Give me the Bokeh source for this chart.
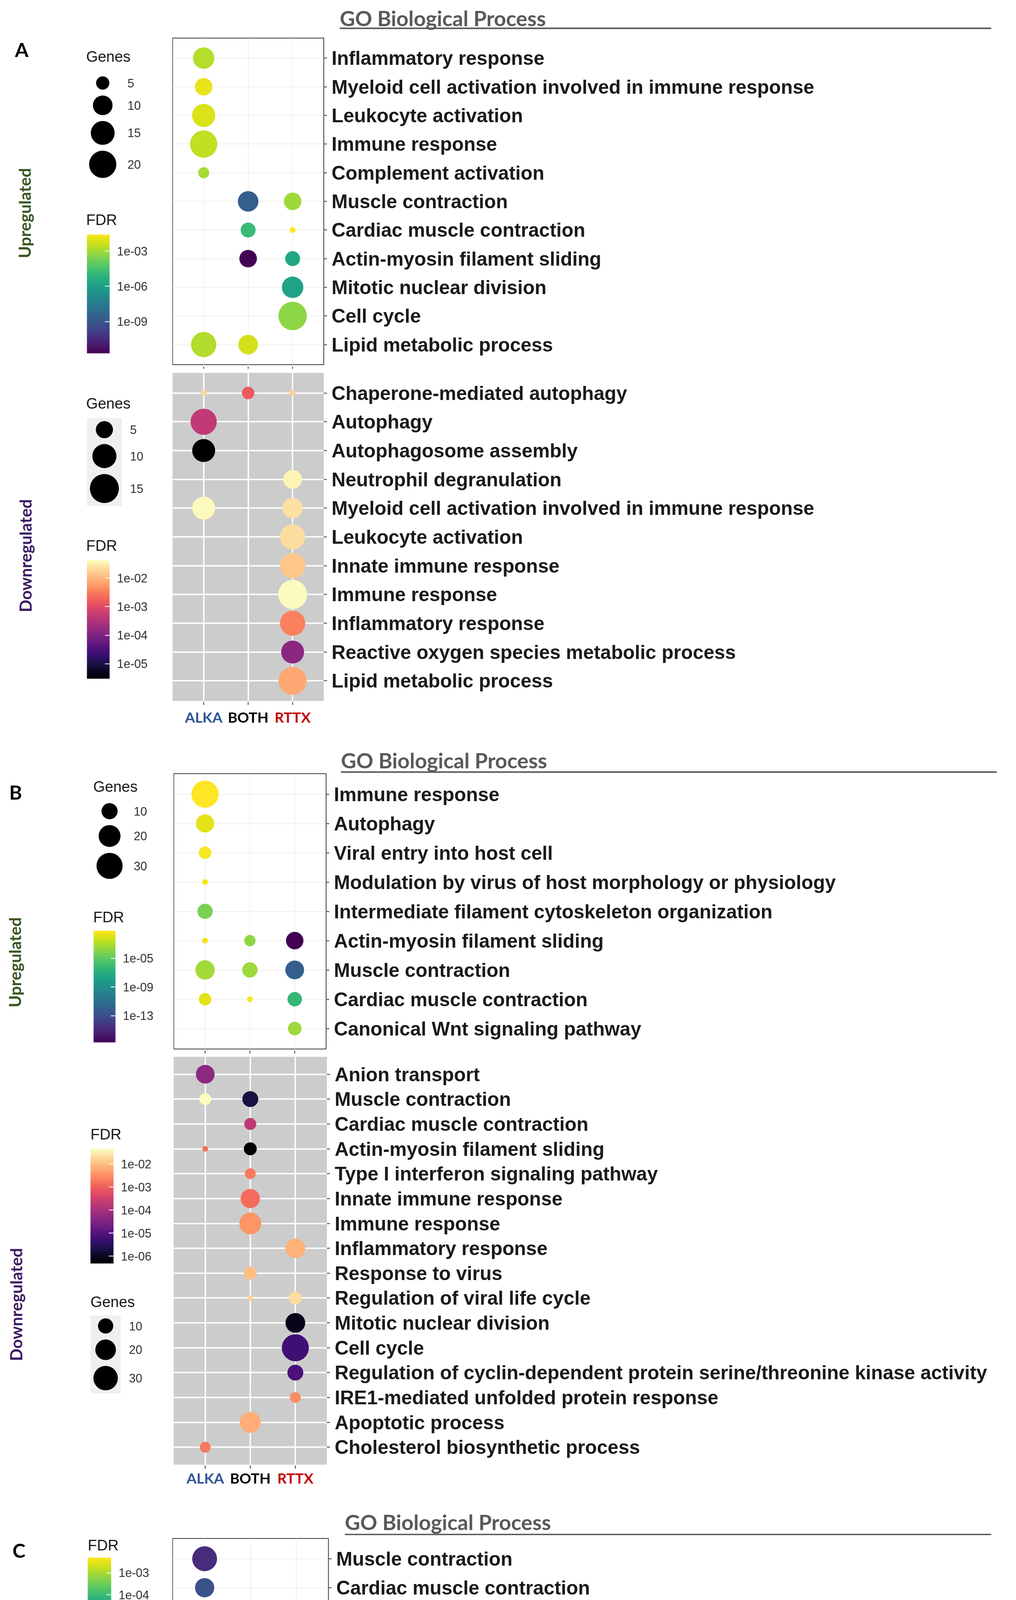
import math
from bokeh.plotting import figure
from bokeh.models import (ColumnDataSource, FactorRange, Range1d, LogColorMapper, ColorBar,
                          FixedTicker, CustomJSTickFormatter, AllLabels)
from bokeh.layouts import column, row
from bokeh.palettes import Viridis256, Magma256
from bokeh.core.properties import value
from bokeh.embed import file_html
from bokeh.resources import INLINE

# ======================= DATA =======================
GROUPS = ["ALKA", "BOTH", "RTTX"]
GROUP_COLORS = ["#2F5597", "#000000", "#C00000"]

# ---- Panel A, upregulated ----
A_UP_TERMS = ["Inflammatory response",
              "Myeloid cell activation involved in immune response",
              "Leukocyte activation", "Immune response", "Complement activation",
              "Muscle contraction", "Cardiac muscle contraction",
              "Actin-myosin filament sliding", "Mitotic nuclear division",
              "Cell cycle", "Lipid metabolic process"]
A_UP_TERM = [0, 1, 2, 3, 4, 5, 5, 6, 6, 7, 7, 8, 9, 10, 10]
A_UP_GROUP = ["ALKA", "ALKA", "ALKA", "ALKA", "ALKA", "BOTH", "RTTX", "BOTH", "RTTX",
              "BOTH", "RTTX", "RTTX", "RTTX", "ALKA", "BOTH"]
A_UP_GENES = [12, 8, 14, 20, 4, 11, 8, 6, 3, 8, 6, 12, 22, 17, 10]
A_UP_FDR = [1.9e-3, 1.2e-2, 7e-3, 3e-3, 1.1e-3, 2e-9, 8.7e-4, 1.5e-5, 2.5e-2,
            2e-12, 2.3e-6, 1.4e-6, 4.8e-4, 1.7e-3, 5.5e-3]
A_UP_SIZE_BREAKS = [5, 10, 15, 20]
A_UP_FDR_TICKS = [1e-3, 1e-6, 1e-9]

# ---- Panel A, downregulated ----
A_DN_TERMS = ["Chaperone-mediated autophagy", "Autophagy", "Autophagosome assembly",
              "Neutrophil degranulation",
              "Myeloid cell activation involved in immune response",
              "Leukocyte activation", "Innate immune response", "Immune response",
              "Inflammatory response", "Reactive oxygen species metabolic process",
              "Lipid metabolic process"]
A_DN_TERM = [0, 0, 0, 1, 2, 3, 4, 4, 5, 6, 7, 8, 9, 10]
A_DN_GROUP = ["ALKA", "BOTH", "RTTX", "ALKA", "ALKA", "RTTX", "ALKA", "RTTX", "RTTX",
              "RTTX", "RTTX", "RTTX", "RTTX", "RTTX"]
A_DN_GENES = [2, 3, 2, 12, 9, 6, 9, 7, 11, 11, 15, 11, 9, 14]
A_DN_FDR = [2.0e-2, 1.5e-3, 1.8e-2, 4.7e-4, 3e-6, 3.5e-2, 3.9e-2, 2.4e-2, 2.2e-2,
            1.35e-2, 4.3e-2, 3.5e-3, 1.35e-4, 7.6e-3]
A_DN_SIZE_BREAKS = [5, 10, 15]
A_DN_FDR_TICKS = [1e-2, 1e-3, 1e-4, 1e-5]

# ---- Panel B, upregulated ----
B_UP_TERMS = ["Immune response", "Autophagy", "Viral entry into host cell",
              "Modulation by virus of host morphology or physiology",
              "Intermediate filament cytoskeleton organization",
              "Actin-myosin filament sliding", "Muscle contraction",
              "Cardiac muscle contraction", "Canonical Wnt signaling pathway"]
B_UP_TERM = [0, 1, 2, 3, 4, 5, 5, 5, 6, 6, 6, 7, 7, 7, 8]
B_UP_GROUP = ["ALKA", "ALKA", "ALKA", "ALKA", "ALKA", "ALKA", "BOTH", "RTTX",
              "ALKA", "BOTH", "RTTX", "ALKA", "BOTH", "RTTX", "RTTX"]
B_UP_GENES = [33, 13, 6, 3, 9, 3, 5, 12, 15, 9, 14, 6, 3, 8, 7]
B_UP_FDR = [7.2e-2, 1.7e-2, 4.3e-2, 4.3e-2, 5.6e-5, 3.5e-2, 1.6e-4, 2e-17,
            4.8e-4, 4e-4, 9.3e-13, 1.7e-2, 4.3e-2, 4.5e-7, 4e-4]
B_UP_SIZE_BREAKS = [10, 20, 30]
B_UP_FDR_TICKS = [1e-5, 1e-9, 1e-13]

# ---- Panel B, downregulated ----
B_DN_TERMS = ["Anion transport", "Muscle contraction", "Cardiac muscle contraction",
              "Actin-myosin filament sliding", "Type I interferon signaling pathway",
              "Innate immune response", "Immune response", "Inflammatory response",
              "Response to virus", "Regulation of viral life cycle",
              "Mitotic nuclear division", "Cell cycle",
              "Regulation of cyclin-dependent protein serine/threonine kinase activity",
              "IRE1-mediated unfolded protein response", "Apoptotic process",
              "Cholesterol biosynthetic process"]
B_DN_TERM = [0, 1, 1, 2, 3, 3, 4, 5, 6, 7, 8, 9, 9, 10, 11, 12, 13, 14, 15]
B_DN_GROUP = ["ALKA", "ALKA", "BOTH", "BOTH", "ALKA", "BOTH", "BOTH", "BOTH", "BOTH",
              "RTTX", "BOTH", "BOTH", "RTTX", "RTTX", "RTTX", "RTTX", "RTTX", "BOTH", "ALKA"]
B_DN_GENES = [16, 6, 11, 6, 3, 7, 5, 17, 23, 18, 7, 3, 7, 18, 38, 11, 5, 21, 5]
B_DN_FDR = [4.7e-5, 4.6e-2, 1.9e-6, 1.9e-4, 1.5e-3, 4.8e-7, 1.9e-3, 1.3e-3, 3.6e-3,
            7.2e-3, 1.0e-2, 1.6e-2, 2.0e-2, 8.5e-7, 5.4e-6, 7.6e-6, 2.9e-3, 6.5e-3, 1.9e-3]
B_DN_SIZE_BREAKS = [10, 20, 30]
B_DN_FDR_TICKS = [1e-2, 1e-3, 1e-4, 1e-5, 1e-6]

# ---- Panel C, upregulated ----
C_UP_TERMS = ["Muscle contraction", "Cardiac muscle contraction",
              "Actin-myosin filament sliding", "Actin filament-based process",
              "Actin cytoskeleton organization", "Sulfur compound biosynthetic process",
              "Purine nucleoside bisphosphate biosynthetic process",
              "Phosphorus metabolic process", "Lipid metabolic process",
              "Extracellular structure organization"]
C_UP_TERM = [0, 1, 2, 3, 4, 5, 6, 7, 8, 8, 9]
C_UP_GROUP = ["ALKA", "ALKA", "ALKA", "ALKA", "ALKA", "BOTH", "BOTH", "BOTH",
              "ALKA", "BOTH", "RTTX"]
C_UP_GENES = [10, 7, 6, 8, 7, 7, 4, 12, 10, 5, 4]
C_UP_FDR = [1.1e-7, 4.9e-7, 3.3e-8, 8.7e-4, 2.3e-3, 2.3e-8, 2.7e-7, 3.1e-6,
            2.8e-3, 2.3e-3, 4.9e-3]
C_UP_SIZE_BREAKS = [6, 8, 10, 12]
C_UP_FDR_TICKS = [1e-3, 1e-4, 1e-5, 1e-6, 1e-7]

# ---- Panel C, downregulated ----
C_DN_TERMS = ["Type I interferon production", "T cell differentiation",
              "Interleukin-1 beta production", "Innate immune response",
              "Immune response", "Neutrophil degranulation", "Leukocyte activation",
              "Response to cytokine", "Response to virus",
              "Regulation of viral life cycle", "PiRNA metabolic process",
              "Nuclear division", "Cell cycle",
              "Regulation of cyclin-dependent protein serine/threonine kinase activity",
              "I-kappaB kinase/NF-kappaB signaling", "Apoptotic process",
              "Lipid metabolic process"]
C_DN_TERM = [0, 1, 2, 3, 4, 4, 5, 6, 7, 7, 8, 8, 9, 9, 10, 10, 11, 12, 13, 13,
             14, 15, 16, 16, 16]
C_DN_GROUP = ["ALKA", "ALKA", "ALKA", "ALKA", "ALKA", "BOTH", "RTTX", "RTTX",
              "ALKA", "BOTH", "ALKA", "BOTH", "ALKA", "BOTH", "BOTH", "RTTX",
              "RTTX", "RTTX", "BOTH", "RTTX", "ALKA", "ALKA", "ALKA", "BOTH", "RTTX"]
C_DN_GENES = [6, 6, 8, 21, 28, 25, 17, 31, 23, 17, 15, 8, 11, 6, 2, 10, 23, 50,
              4, 12, 8, 23, 20, 20, 32]
C_DN_FDR = [3.5e-3, 4e-3, 2.5e-4, 6.8e-6, 1.1e-4, 1.5e-2, 1.5e-2, 1.5e-2, 2.1e-6,
            1.7e-2, 2e-8, 1.7e-2, 7.8e-6, 1.7e-2, 2.6e-2, 8.7e-8, 1.4e-5, 2.9e-5,
            2e-2, 1.6e-5, 2.6e-3, 2.2e-3, 1.7e-2, 1.5e-2, 4.1e-2]
C_DN_SIZE_BREAKS = [10, 20, 30, 40, 50]
C_DN_FDR_TICKS = [1e-2, 1e-4, 1e-6]

# ======================= STYLE / LAYOUT =======================
W = 2584
AX_FONT = "Liberation Sans"
CAL_FONT = "Lato"
UP_COLOR = "#385723"
DN_COLOR = "#3d1a63"
TITLE_COLOR = "#595959"


def size_px(n, nmin, nmax, s):
    t = (n - nmin) / float(nmax - nmin)
    return s * (3.79 + 14.2 * math.sqrt(max(t, 0.0)))


def pixel_fig(width, top, bottom):
    p = figure(width=width, height=bottom - top, x_range=Range1d(0, width),
               y_range=Range1d(bottom, top), x_axis_type=None, y_axis_type=None,
               toolbar_location=None, output_backend="svg", min_border=0, title=None)
    p.outline_line_color = None
    p.background_fill_color = "white"
    p.border_fill_color = "white"
    return p


def title_fig(top, bottom, tx, ty, line_y, line_end):
    p = pixel_fig(W, top, bottom)
    p.text(x=[tx], y=[ty], text=["GO Biological Process"], text_baseline="middle",
           text_align="left", text_font=value(CAL_FONT), text_font_style="bold",
           text_font_size="54px", text_color=TITLE_COLOR)
    p.segment(x0=[tx], y0=[line_y], x1=[line_end], y1=[line_y], line_width=4,
              line_color=TITLE_COLOR)
    return p


def fdr_formatter():
    return CustomJSTickFormatter(code="""
        const e = Math.round(Math.log10(tick));
        const a = Math.abs(e);
        return "1e" + (e < 0 ? "-" : "+") + (a < 10 ? "0" + a : "" + a);
    """)


def left_fig(width, top, bottom, letter, vlabel, vcolor, vpos, genes, g, f, mapper):
    p = pixel_fig(width, top, bottom)
    if letter is not None:
        p.text(x=[letter[1]], y=[letter[2]], text=[letter[0]], text_align="center",
               text_baseline="middle", text_font=value(CAL_FONT), text_font_style="bold",
               text_font_size="50px", text_color="black")
    p.text(x=[vpos[0]], y=[vpos[1]], text=[vlabel], angle=math.pi / 2,
           text_align="center", text_baseline="middle", text_font=value(CAL_FONT),
           text_font_style="bold", text_font_size="42px", text_color=vcolor)

    # ---- size legend ----
    nmin, nmax = min(genes), max(genes)
    ds = [size_px(b, nmin, nmax, g["s"]) for b in g["breaks"]]
    kw = max(ds) + 15
    y = g["key_top"]
    cys = []
    for d in ds:
        cys.append(y + (d + 15) / 2.0)
        y += d + 15
    cx = g["box_left"] + kw / 2.0
    if g["grey"]:
        p.quad(left=[g["box_left"]], right=[g["box_left"] + kw], top=[g["key_top"]],
               bottom=[y], fill_color="#efefef", line_color=None)
    p.scatter(x=[cx] * len(ds), y=cys, size=ds, fill_color="black", line_color=None)
    p.text(x=[g["box_left"] + kw + 21] * len(ds), y=cys, text=[str(b) for b in g["breaks"]],
           text_align="left", text_baseline="middle", text_font=value(AX_FONT),
           text_font_size="30.5px", text_color="#333333")
    p.text(x=[g["title"][0]], y=[g["title"][1]], text=["Genes"], text_align="left",
           text_baseline="middle", text_font=value(AX_FONT), text_font_size="38.5px",
           text_color="#1a1a1a")

    # ---- colour bar ----
    p.text(x=[f["title"][0]], y=[f["title"][1]], text=["FDR"], text_align="left",
           text_baseline="middle", text_font=value(AX_FONT), text_font_size="38.5px",
           text_color="#1a1a1a")
    bl, bt, bw, bh = f["bar"]
    cb = ColorBar(color_mapper=mapper, orientation="vertical",
                  location=(bl, bottom - (bt + bh)), width=bw, height=bh,
                  padding=0, margin=0, title=None,
                  ticker=FixedTicker(ticks=f["ticks"]), formatter=fdr_formatter(),
                  major_label_policy=AllLabels(),
                  major_label_text_font=AX_FONT, major_label_text_font_size="30.5px",
                  major_label_text_color="#333333", label_standoff=19,
                  major_tick_in=12, major_tick_out=0, major_tick_line_color="white",
                  major_tick_line_width=2, minor_tick_line_color=None,
                  bar_line_color=None, border_line_color=None,
                  background_fill_alpha=0)
    p.add_layout(cb)
    return p


def main_fig(terms, tidx, grp, genes, fdr, mapper, s, fl, fr, ft, fb, top, grey):
    nmin, nmax = min(genes), max(genes)
    sizes = [size_px(n, nmin, nmax, s) for n in genes]
    src = ColumnDataSource(dict(term=[terms[i] for i in tidx], group=grp, genes=genes,
                                fdr=fdr, size=sizes))
    xr = FactorRange(factors=GROUPS, range_padding=0.2, range_padding_units="absolute")
    yr = FactorRange(factors=terms[::-1], range_padding=0.2, range_padding_units="absolute")
    p = figure(x_range=xr, y_range=yr, frame_width=fr - fl, frame_height=fb - ft,
               min_border_left=0, min_border_right=W - fr, min_border_top=ft - top,
               min_border_bottom=2, y_axis_location="right", x_axis_location=None,
               toolbar_location=None, output_backend="svg", title=None)
    p.border_fill_color = "white"
    if grey:
        p.background_fill_color = "#cccccc"
        p.grid.grid_line_color = "white"
        p.grid.grid_line_width = 3.5
        p.outline_line_color = None
    else:
        p.background_fill_color = "white"
        p.grid.grid_line_color = "#ebebeb"
        p.grid.grid_line_width = 1.5
        p.outline_line_color = "#333333"
        p.outline_line_width = 2
    p.scatter(x="group", y="term", size="size", source=src,
              fill_color={"field": "fdr", "transform": mapper}, line_color=None)
    ya = p.yaxis[0]
    ya.major_label_text_font = AX_FONT
    ya.major_label_text_font_style = "bold"
    ya.major_label_text_font_size = "49.5px"
    ya.major_label_text_color = "#1a1a1a"
    ya.major_tick_out = 8
    ya.major_tick_in = 0
    ya.major_tick_line_color = "#333333"
    ya.major_tick_line_width = 2
    ya.axis_line_color = None
    ya.major_label_standoff = 12
    return p


def bottom_fig(x_range, fl, fr, height, label_y):
    """Tick marks under the panel, and (for the lower panels) the group names."""
    p = figure(x_range=x_range, y_range=Range1d(height, 0), frame_width=fr - fl,
               frame_height=height, min_border_left=0, min_border_right=W - fr,
               min_border_top=0, min_border_bottom=0, x_axis_type=None, y_axis_type=None,
               toolbar_location=None, output_backend="svg", title=None)
    p.outline_line_color = None
    p.background_fill_color = "white"
    p.border_fill_color = "white"
    src = ColumnDataSource(dict(x=GROUPS, y0=[0] * 3, y1=[8] * 3, y=[label_y or 0] * 3,
                                c=GROUP_COLORS))
    p.segment(x0="x", y0="y0", x1="x", y1="y1", source=src, line_color="#333333",
              line_width=2)
    if label_y is not None:
        p.text(x="x", y="y", text="x", text_color="c", source=src, text_align="center",
               text_baseline="middle", text_font=value(CAL_FONT), text_font_style="bold",
               text_font_size="37px")
    return p


def subplot(terms, tidx, grp, genes, fdr, palette, s, box, letter, vlabel, vcolor, vpos,
            g, f, grey, xl=None):
    """box = (frame left, frame right, frame top, frame bottom, row top, row bottom)"""
    fl, fr, ft, fb, top, bottom = box
    mapper = LogColorMapper(palette=palette, low=min(fdr), high=max(fdr))
    lf = left_fig(fl, top, bottom, letter, vlabel, vcolor, vpos, genes, g, f, mapper)
    mf = main_fig(terms, tidx, grp, genes, fdr, mapper, s, fl, fr, ft, fb, top, grey)
    mb = fb + 2
    bf = bottom_fig(mf.x_range, fl, fr, bottom - mb, None if xl is None else xl - mb)
    return row(lf, column(mf, bf))


# ---------------- Panel A ----------------
tA = title_fig(0, 90, 869, 45.5, 72, 2536)
aup = subplot(A_UP_TERMS, A_UP_TERM, A_UP_GROUP, A_UP_GENES, A_UP_FDR, Viridis256, 4.05,
              (441, 828, 97, 933, 90, 944), ("A", 55, 126), "Upregulated", UP_COLOR,
              (62.5, 545),
              dict(breaks=A_UP_SIZE_BREAKS, s=4.05, title=(220, 144), key_top=187.5,
                   box_left=220, grey=False),
              dict(ticks=A_UP_FDR_TICKS, title=(220, 562), bar=(222, 600, 58, 304)),
              grey=False)
adn = subplot(A_DN_TERMS, A_DN_TERM, A_DN_GROUP, A_DN_GENES, A_DN_FDR, Magma256, 4.13,
              (441, 828, 954, 1794, 944, 1870), None, "Downregulated", DN_COLOR,
              (64, 1422),
              dict(breaks=A_DN_SIZE_BREAKS, s=4.13, title=(220, 1032), key_top=1070,
                   box_left=222, grey=True),
              dict(ticks=A_DN_FDR_TICKS, title=(220, 1396), bar=(222, 1433, 58, 304)),
              grey=True, xl=1835)

# ---------------- Panel B ----------------
tB = title_fig(1870, 1979, 872, 1946, 1976, 2550)
bup = subplot(B_UP_TERMS, B_UP_TERM, B_UP_GROUP, B_UP_GENES, B_UP_FDR, Viridis256, 3.87,
              (444, 834, 1980, 2685, 1979, 2697), ("B", 39.5, 2027.5), "Upregulated",
              UP_COLOR, (37.5, 2463),
              dict(breaks=B_UP_SIZE_BREAKS, s=3.87, title=(238, 2013), key_top=2048,
                   box_left=239, grey=False),
              dict(ticks=B_UP_FDR_TICKS, title=(238, 2347), bar=(239, 2382, 56, 286)),
              grey=False)
bdn = subplot(B_DN_TERMS, B_DN_TERM, B_DN_GROUP, B_DN_GENES, B_DN_FDR, Magma256, 3.85,
              (444, 836, 2705, 3749, 2697, 3810), None, "Downregulated", DN_COLOR,
              (40, 3339),
              dict(breaks=B_DN_SIZE_BREAKS, s=3.85, title=(231, 3332), key_top=3367,
                   box_left=231, grey=True),
              dict(ticks=B_DN_FDR_TICKS, title=(231, 2903), bar=(231, 2940, 59, 294)),
              grey=True, xl=3783)

# ---------------- Panel C ----------------
tC = title_fig(3810, 3930, 882, 3896, 3928, 2536)
cup = subplot(C_UP_TERMS, C_UP_TERM, C_UP_GROUP, C_UP_GENES, C_UP_FDR, Viridis256, 3.95,
              (441, 840, 3938, 4709, 3930, 4722), ("C", 48, 3968), "Upregulated",
              UP_COLOR, (69.5, 4474),
              dict(breaks=C_UP_SIZE_BREAKS, s=3.95, title=(224, 4386), key_top=4423,
                   box_left=225, grey=False),
              dict(ticks=C_UP_FDR_TICKS, title=(224, 3955), bar=(224, 3987, 60, 301)),
              grey=False)
cdn = subplot(C_DN_TERMS, C_DN_TERM, C_DN_GROUP, C_DN_GENES, C_DN_FDR, Magma256, 4.07,
              (444, 843, 4734, 5843, 4722, 5910), None, "Downregulated", DN_COLOR,
              (71.5, 5354.5),
              dict(breaks=C_DN_SIZE_BREAKS, s=4.07, title=(228, 4882), key_top=4916,
                   box_left=230, grey=True),
              dict(ticks=C_DN_FDR_TICKS, title=(228, 5379), bar=(228, 5416, 60, 298)),
              grey=True, xl=5876)

page = column(tA, aup, adn, tB, bup, bdn, tC, cup, cdn)

open("out.html", "w").write(file_html(page, INLINE))
